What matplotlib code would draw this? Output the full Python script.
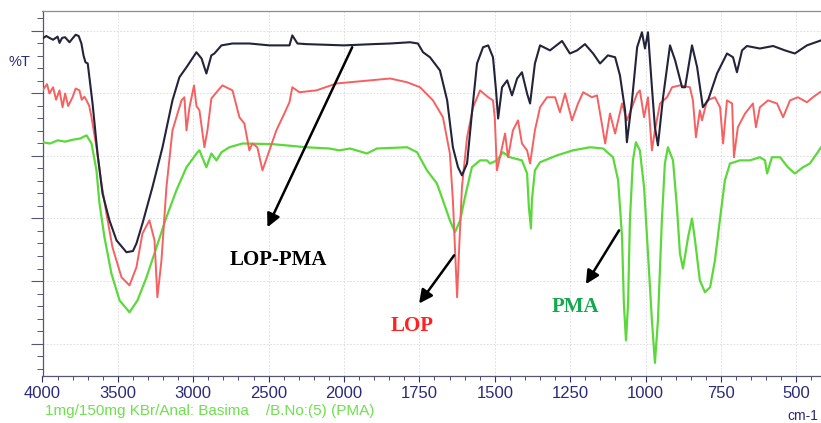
import numpy as np
import matplotlib
matplotlib.use("Agg")
import matplotlib.pyplot as plt
from matplotlib import font_manager
from matplotlib.ticker import FixedLocator, NullFormatter, MultipleLocator

# ---------------- data ----------------
lop_pma_wn = [4000, 3975, 3954, 3930, 3900, 3887, 3870, 3850, 3821, 3801, 3780, 3760, 3742, 3728, 3715, 3700,
              3668, 3635, 3602, 3556, 3509, 3443, 3400, 3377, 3337, 3271, 3204, 3138, 3092, 3045, 2979, 2945,
              2913, 2880, 2860, 2813, 2740, 2628, 2495, 2362, 2343, 2309, 2250, 2000, 1904, 1847, 1781, 1755,
              1738, 1715, 1682, 1658, 1639, 1622, 1609, 1592, 1576, 1559, 1539, 1522, 1506, 1496, 1489, 1476,
              1459, 1443, 1426, 1410, 1393, 1383, 1367, 1350, 1317, 1277, 1251, 1227, 1201, 1174, 1151, 1125,
              1101, 1085, 1068, 1062, 1045, 1028, 1012, 1002, 992, 979, 969, 959, 942, 919, 902, 879, 869, 846,
              829, 810, 793, 763, 730, 710, 697, 680, 664, 621, 577, 538, 505, 465, 418, 400]
lop_pma_t = [48.8, 49.2, 48.9, 48.6, 49.1, 48.1, 48.9, 49.0, 48.2, 48.8, 49.4, 49.2, 48.0, 46.1, 45.0, 44.8,
             38.4, 30.4, 24.0, 19.7, 16.5, 14.6, 14.8, 16.0, 19.2, 25.0, 31.4, 38.9, 42.6, 44.2, 46.6, 45.6,
             43.2, 46.1, 46.4, 47.7, 48.0, 48.0, 47.7, 47.7, 49.3, 48.0, 47.9, 47.7, 47.9, 48.0, 48.2, 48.0,
             46.6, 45.8, 43.7, 38.9, 31.4, 28.2, 26.9, 28.8, 36.8, 44.8, 47.4, 47.7, 45.8, 40.5, 36.0, 41.0,
             42.1, 39.7, 42.4, 43.4, 40.0, 38.4, 44.8, 47.7, 46.9, 48.4, 46.4, 46.9, 47.9, 46.4, 44.8, 46.1,
             45.8, 42.9, 37.3, 32.2, 38.9, 47.4, 49.8, 47.2, 49.8, 41.0, 34.6, 31.7, 39.4, 47.7, 45.3, 41.0, 41.0, 47.7,
             44.2, 37.8, 38.9, 43.2, 46.4, 45.8, 43.4, 46.9, 47.6, 47.2, 47.6, 46.9, 46.4, 47.7, 48.5, 48.7]

lop_wn = [4000, 3970, 3954, 3930, 3910, 3887, 3867, 3850, 3830, 3801, 3780, 3755, 3740, 3722, 3708, 3690,
          3675, 3642, 3609, 3576, 3536, 3476, 3423, 3377, 3337, 3291, 3257, 3238, 3211, 3178, 3138, 3078,
          3059, 3045, 3025, 2995, 2979, 2959, 2926, 2906, 2880, 2846, 2807, 2740, 2694, 2661, 2628, 2608,
          2575, 2541, 2495, 2449, 2396, 2362, 2343, 2296, 2183, 2051, 1980, 1847, 1791, 1748, 1705, 1672,
          1649, 1639, 1629, 1625, 1619, 1609, 1592, 1572, 1549, 1522, 1506, 1500, 1493, 1483, 1466, 1456,
          1440, 1423, 1410, 1393, 1383, 1367, 1350, 1327, 1300, 1284, 1267, 1244, 1224, 1207, 1178, 1161,
          1134, 1118, 1101, 1078, 1062, 1045, 1028, 1019, 1005, 992, 979, 969, 952, 929, 912, 886, 853, 843,
          833, 820, 813, 796, 770, 753, 743, 730, 713, 707, 694, 670, 644, 634, 621, 594, 564, 544, 521, 495,
          465, 445, 422, 400]
lop_t = [40.5, 41.5, 40.0, 41.0, 39.0, 40.5, 37.8, 40.0, 38.0, 39.4, 40.8, 40.5, 39.0, 39.5, 38.9, 38.0,
         36.2, 31.4, 25.6, 20.8, 15.4, 10.6, 9.3, 12.2, 17.6, 19.7, 16.5, 7.4, 13.3, 25.0, 34.1, 38.9,
         39.4, 34.1, 37.8, 41.3, 38.0, 37.3, 31.4, 34.1, 39.2, 40.2, 41.3, 40.5, 36.2, 35.2, 30.9, 32.0,
         31.4, 27.7, 30.9, 34.1, 36.8, 38.6, 41.0, 40.2, 40.5, 41.6, 41.8, 42.4, 41.8, 41.0, 38.9, 36.2,
         30.4, 22.9, 11.7, 7.4, 14.4, 25.0, 33.0, 37.8, 40.5, 39.4, 38.9, 36.0, 27.7, 29.8, 33.6, 29.8,
         34.1, 35.7, 32.0, 30.9, 28.8, 34.1, 37.8, 39.4, 39.4, 37.0, 40.0, 35.7, 38.4, 40.2, 39.4, 39.7,
         32.0, 36.8, 33.6, 38.4, 35.7, 37.8, 40.0, 40.5, 36.2, 39.4, 30.9, 34.1, 38.4, 39.4, 41.0, 41.3, 41.0, 38.9,
         33.0, 37.3, 35.7, 38.9, 39.4, 37.8, 32.0, 38.9, 38.4, 29.8, 34.6, 36.8, 38.4, 34.6, 37.8, 38.9, 38.4, 36.2, 38.9, 39.4,
         38.6, 39.4, 40.2, 40.5]

pma_wn = [4000, 3950, 3900, 3850, 3800, 3750, 3708, 3675, 3642, 3622, 3589, 3543, 3489, 3423, 3370, 3310,
          3244, 3178, 3112, 3045, 2972, 2959, 2913, 2880, 2846, 2813, 2760, 2674, 2475, 2250, 2097, 2031,
          1980, 1924, 1891, 1791, 1758, 1725, 1692, 1672, 1649, 1632, 1615, 1599, 1576, 1549, 1526, 1516,
          1493, 1473, 1450, 1410, 1393, 1387, 1380, 1377, 1367, 1350, 1294, 1241, 1184, 1141, 1108, 1091,
          1078, 1072, 1065, 1058, 1052, 1042, 1032, 1019, 1005, 992, 979, 969, 959, 946, 936, 926, 909, 896,
          886, 876, 859, 846, 836, 820, 803, 786, 770, 753, 737, 720, 687, 654, 621, 604, 597, 581, 554, 528,
          505, 478, 455, 432, 418, 400]
pma_t = [32.2, 32.0, 32.5, 32.3, 32.6, 32.8, 33.3, 32.0, 27.7, 22.4, 17.0, 11.2, 6.9, 5.0, 6.9, 10.6,
         15.4, 20.2, 24.5, 28.2, 30.6, 30.9, 28.2, 30.4, 29.3, 30.6, 31.4, 32.0, 31.9, 31.4, 31.2, 30.9,
         31.2, 30.4, 31.2, 31.4, 30.6, 27.7, 25.6, 22.9, 19.7, 17.8, 19.7, 23.4, 28.2, 29.3, 29.3, 28.8,
         29.3, 30.6, 29.8, 29.3, 27.2, 21.8, 18.4, 22.9, 27.7, 29.0, 30.1, 30.9, 31.4, 31.2, 29.8, 26.1,
         17.0, 6.4, 0.5, 6.4, 19.7, 29.3, 32.2, 30.9, 25.0, 14.4, 3.7, -3.1, 3.7, 19.7, 28.8, 31.4, 29.3, 21.8,
         14.4, 12.0, 17.0, 20.0, 16.5, 10.1, 8.2, 9.0, 13.3, 20.0, 26.1, 28.8, 29.3, 29.3, 29.8, 29.3, 27.2, 29.8, 29.8, 28.2,
         27.2, 28.2, 28.8, 30.4, 31.4, 32.0]

x_major = [4000, 3500, 3000, 2500, 2000, 1750, 1500, 1250, 1000, 750, 500]
x_labels = ["4000", "3500", "3000", "2500", "2000", "1750", "1500", "1250", "1000", "750", "500"]

# ---------------- fonts ----------------
names = {f.name for f in font_manager.fontManager.ttflist}
if "Liberation Sans Narrow" in names:
    tick_font, tick_size, foot_size = "Liberation Sans Narrow", 13, 12
else:
    tick_font, tick_size, foot_size = "Liberation Sans", 12, 11

navy = "#2a2a78"

# ---------------- figure ----------------
fig = plt.figure(figsize=(8.21, 4.23), dpi=100)
fig.patch.set_facecolor("white")
ax = fig.add_axes([42.5 / 821, 47 / 423, 784 / 821, 365 / 423])


def fwd(x):
    x = np.asarray(x, dtype=float)
    return np.where(x >= 2000, 2000 + (x - 2000) / 2.0, x)


def inv(y):
    y = np.asarray(y, dtype=float)
    return np.where(y >= 2000, 2000 + (y - 2000) * 2.0, y)


ax.set_xscale("function", functions=(fwd, inv))
ax.set_xlim(4000, 400)
ax.set_ylim(-5.2, 53.2)

ax.plot(pma_wn, pma_t, color="#5cd93a", lw=1.6, solid_joinstyle="round", zorder=3)
ax.plot(lop_wn, lop_t, color="#f76060", lw=1.4, solid_joinstyle="round", zorder=4)
ax.plot(lop_pma_wn, lop_pma_t, color="#23233a", lw=1.5, solid_joinstyle="round", zorder=5)

# ticks
x_minor = list(range(4000, 2000, -100)) + list(range(2000, 399, -50))
ax.xaxis.set_major_locator(FixedLocator(x_major))
ax.xaxis.set_minor_locator(FixedLocator(x_minor))
ax.set_xticklabels(x_labels, fontfamily=tick_font, fontsize=tick_size, color=navy)
ax.xaxis.set_minor_formatter(NullFormatter())
ax.tick_params(axis="x", which="major", direction="out", length=4, width=0.8, color=navy, pad=3)
ax.tick_params(axis="x", which="minor", direction="out", length=3, width=0.6, color=navy)

ax.yaxis.set_major_locator(MultipleLocator(10))
ax.yaxis.set_minor_locator(MultipleLocator(2))
ax.yaxis.set_major_formatter(NullFormatter())
ax.tick_params(axis="y", which="major", direction="out", length=9, width=0.8, color="#555577")
ax.tick_params(axis="y", which="minor", direction="out", length=4.5, width=0.7, color="#555577")

ax.grid(True, which="major", color="#d8d8e0", lw=0.6, ls=(0, (2, 2)))
ax.set_axisbelow(True)

for s in ["left", "bottom"]:
    ax.spines[s].set_color("#555577")
    ax.spines[s].set_linewidth(0.9)
ax.spines["top"].set_color("#8a8a9a")
ax.spines["top"].set_linewidth(0.9)
ax.spines["right"].set_visible(False)

# annotations
arrow = dict(arrowstyle="-|>", lw=1.8, color="black", mutation_scale=20, shrinkA=0, shrinkB=0)
ax.annotate("", xy=(2508, 18.6), xytext=(1973, 47.4), arrowprops=arrow, zorder=6)
ax.annotate("", xy=(1751, 6.4), xytext=(1635, 14.1), arrowprops=arrow, zorder=6)
ax.annotate("", xy=(1198, 9.5), xytext=(1088, 18.1), arrowprops=arrow, zorder=6)

ax.text(2435, 13.3, "LOP-PMA", family="Liberation Serif", weight="bold", fontsize=15,
        color="black", ha="center", va="center", zorder=7)
ax.text(1775, 2.8, "LOP", family="Liberation Serif", weight="bold", fontsize=15,
        color="#ff2020", ha="center", va="center", zorder=7)
ax.text(1234, 5.8, "PMA", family="Liberation Serif", weight="bold", fontsize=15,
        color="#14a84e", ha="center", va="center", zorder=7)

fig.text(19 / 821, 1 - 62 / 423, "%T", fontsize=10.5, color=navy, ha="center", va="center",
         family="Liberation Sans")
fig.text(45 / 821, 1 - 411 / 423, "1mg/150mg KBr/Anal: Basima    /B.No:(5) (PMA)",
         fontsize=foot_size, color="#6ee04e", ha="left", va="center", family=tick_font)
fig.text(818 / 821, 1 - 416 / 423, "cm-1", fontsize=foot_size - 1, color=navy, ha="right", va="center",
         family=tick_font)

fig.savefig("out.png", dpi=100, facecolor="white")
